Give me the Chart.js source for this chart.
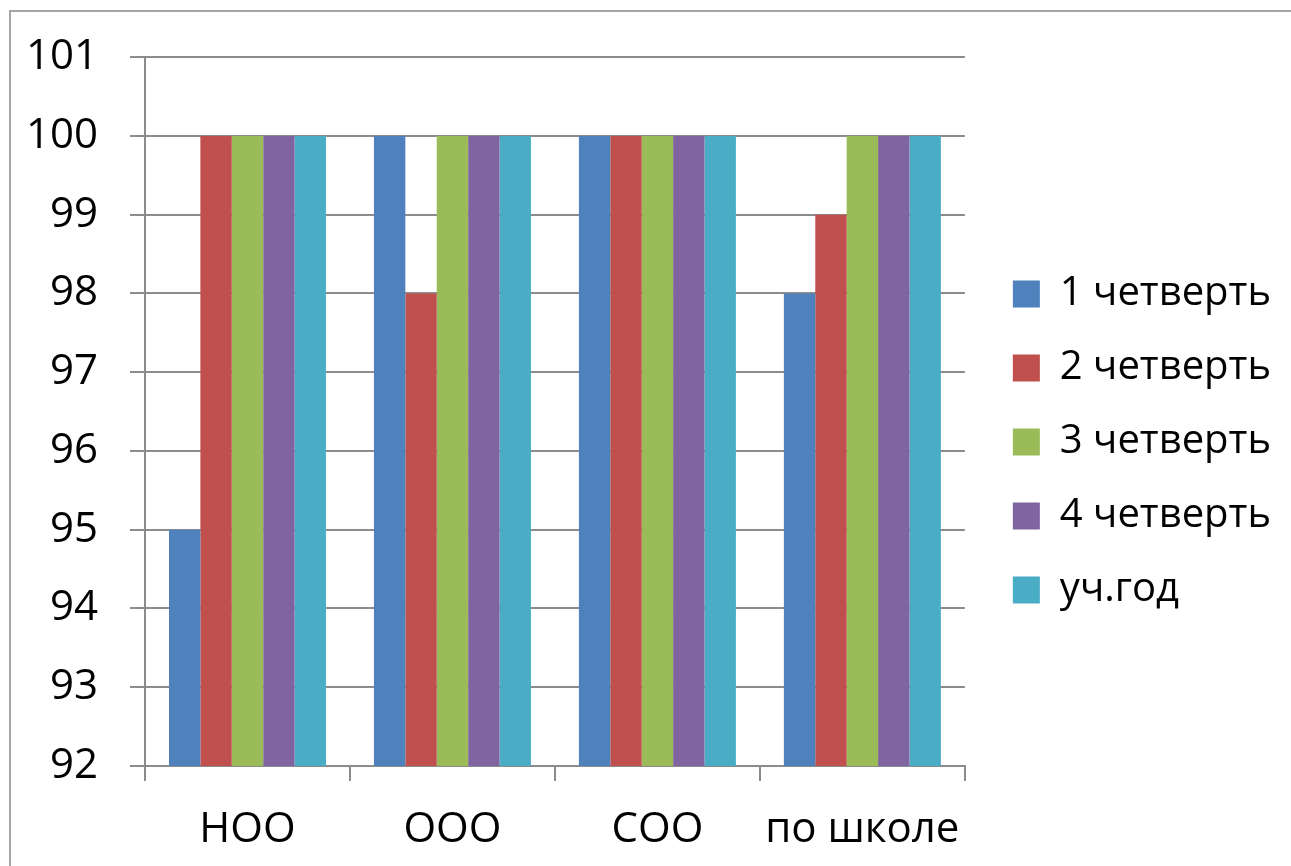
<!DOCTYPE html>
<html lang="ru">
<head>
<meta charset="utf-8">
<title>Успеваемость по четвертям</title>
<script src="https://cdn.jsdelivr.net/npm/chart.js@4.4.1/dist/chart.umd.min.js"></script>
<style>
    html, body { margin: 0; padding: 0; background: #fff; overflow: hidden; }
    #wrap { position: relative; width: 1291px; height: 866px; overflow: hidden; }
    #frame {
        position: absolute; left: 9px; top: 10px;
        width: 1400px; height: 900px;
        border-left: 2px solid #a6a6a6; border-top: 2px solid #a6a6a6;
        box-sizing: border-box;
        pointer-events: none;
    }
</style>
</head>
<body>
<div id="wrap">
    <canvas id="chart" width="1291" height="866"></canvas>
    <div id="frame"></div>
</div>
<script>
const categories = ["НОО", "ООО", "СОО", "по школе"];
const seriesNames = ["1 четверть", "2 четверть", "3 четверть", "4 четверть", "уч.год"];
const quarter1 = [95, 100, 100, 98];
const quarter2 = [100, 98, 100, 99];
const quarter3 = [100, 100, 100, 100];
const quarter4 = [100, 100, 100, 100];
const schoolYear = [100, 100, 100, 100];
const seriesColors = ["#4f81bd", "#c0504d", "#9bbb59", "#8064a2", "#4bacc6"];

const gridGray = "#8c8c8c";
const FONT = "'Open Sans', 'Liberation Sans', sans-serif";

// legend sits further right / higher than Chart.js puts it by default
const LEGEND_SHIFT_X = 14;
const LEGEND_SHIFT_Y = -17;

const legendNudge = {
    id: "legendNudge",
    afterLayout(chart) {
        const lg = chart.legend;
        if (!lg) return;
        lg.left += LEGEND_SHIFT_X;
        lg.right += LEGEND_SHIFT_X;
        lg.top += LEGEND_SHIFT_Y;
        lg.bottom += LEGEND_SHIFT_Y;
    },
};

const values = [quarter1, quarter2, quarter3, quarter4, schoolYear];

new Chart(document.getElementById("chart"), {
    type: "bar",
    data: {
        labels: categories,
        datasets: seriesNames.map((name, i) => ({
            label: name,
            data: values[i],
            backgroundColor: seriesColors[i],
            borderWidth: 0,
            barPercentage: 1,
            categoryPercentage: 0.766,
        })),
    },
    options: {
        responsive: false,
        animation: false,
        layout: { padding: { left: 0, top: 52, right: 24, bottom: 0 } },
        plugins: {
            tooltip: { enabled: false },
            legend: {
                position: "right",
                labels: {
                    color: "#000",
                    boxWidth: 27,
                    boxHeight: 27,
                    padding: 34,
                    font: { family: FONT, size: 40 },
                },
            },
        },
        scales: {
            x: {
                offset: true,
                grid: {
                    offset: true,
                    drawOnChartArea: false,
                    drawTicks: true,
                    tickLength: 15,
                    color: gridGray,
                    lineWidth: 2,
                },
                border: { color: gridGray, width: 2 },
                ticks: {
                    color: "#000",
                    padding: 24,
                    font: { family: FONT, size: 42 },
                    maxRotation: 0,
                },
                afterFit: (scale) => { scale.height = 100; },
            },
            y: {
                min: 92,
                max: 101,
                grid: {
                    color: gridGray,
                    lineWidth: 2,
                    tickLength: 15,
                },
                border: { color: gridGray, width: 2 },
                ticks: {
                    stepSize: 1,
                    color: "#000",
                    padding: 32,
                    font: { family: FONT, size: 42 },
                },
                afterFit: (scale) => { scale.width = 145; },
            },
        },
    },
    plugins: [legendNudge],
});
</script>
</body>
</html>
